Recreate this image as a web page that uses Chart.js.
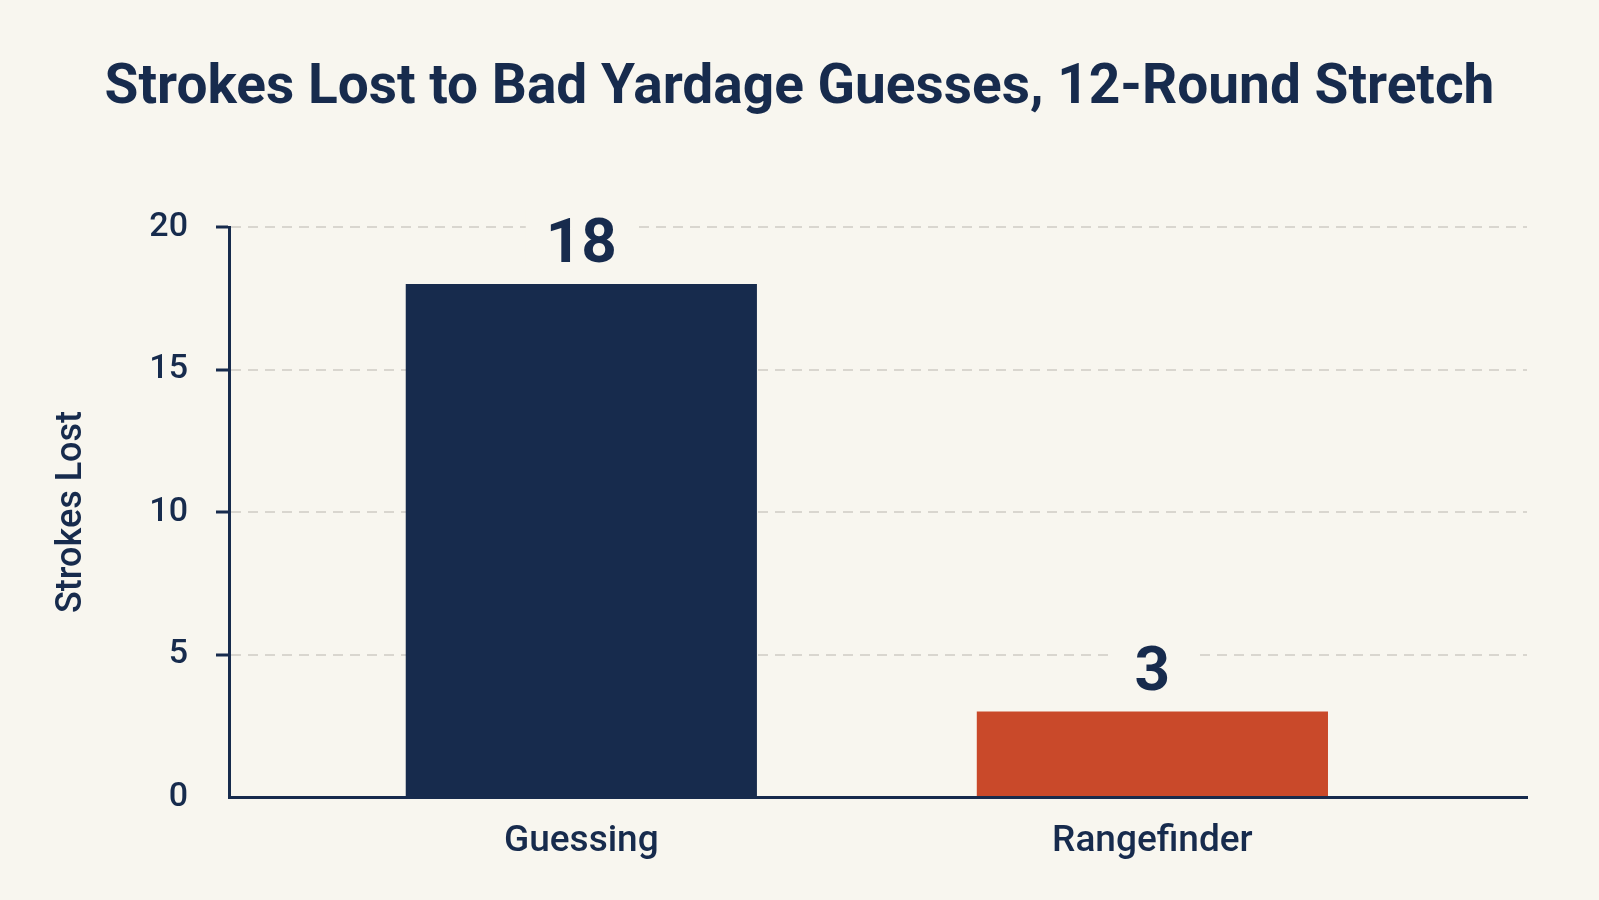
<!DOCTYPE html>
<html>
<head>
<meta charset="utf-8">
<title>Strokes Lost to Bad Yardage Guesses</title>
<script src="https://cdn.jsdelivr.net/npm/chart.js@4.4.1/dist/chart.umd.min.js"></script>
<style>
  html, body { margin: 0; padding: 0; background: #f8f6ef; }
  #wrap { width: 1599px; height: 900px; position: relative; }
</style>
</head>
<body>
<div id="wrap"><canvas id="chart"></canvas></div>
<script>
const categories = ['Guessing', 'Rangefinder'];
const strokesLost = [18, 3];
const barColors = ['#172b4d', '#c9492a'];
const yTicks = [0, 5, 10, 15, 20];

const NAVY = '#172b4d';
const BG = '#f8f6ef';
const GRID = '#d9d6cf';
const FONT = "Roboto, 'Liberation Sans', sans-serif";

Chart.defaults.font.family = FONT;
Chart.defaults.color = NAVY;

// number above each bar, with a patch of page colour so the grid line breaks around it
const valueLabels = {
    id: 'valueLabels',
    afterDatasetsDraw(chart) {
        const ctx = chart.ctx;
        const meta = chart.getDatasetMeta(0);
        ctx.save();
        ctx.font = `bold 62px ${FONT}`;
        ctx.textAlign = 'center';
        ctx.textBaseline = 'alphabetic';
        meta.data.forEach((bar, i) => {
            const text = String(strokesLost[i]);
            const w = Math.max(ctx.measureText(text).width + 40, 88);
            const base = bar.y - 22;
            ctx.fillStyle = BG;
            ctx.fillRect(bar.x - w / 2, base - 52, w, 56);
            ctx.fillStyle = NAVY;
            ctx.fillText(text, bar.x, base);
        });
        ctx.restore();
    }
};

new Chart(document.getElementById('chart'), {
    type: 'bar',
    data: {
        datasets: [{
            data: strokesLost.map((v, i) => ({ x: i, y: v })),
            backgroundColor: barColors,
            borderWidth: 0,
            categoryPercentage: 1,
            barPercentage: 0.615
        }]
    },
    options: {
        responsive: true,
        maintainAspectRatio: false,
        animation: false,
        layout: { padding: 0 },
        plugins: {
            legend: { display: false },
            tooltip: { enabled: false },
            title: {
                display: true,
                text: 'Strokes Lost to Bad Yardage Guesses, 12-Round Stretch',
                font: { size: 55, weight: 'bold' },
                color: NAVY,
                padding: { top: 56, bottom: 105 }
            }
        },
        scales: {
            x: {
                type: 'linear',
                offset: false,
                min: -0.617,
                max: 1.656,
                afterBuildTicks: s => { s.ticks = categories.map((c, i) => ({ value: i })); },
                ticks: {
                    callback: v => categories[v],
                    font: { size: 37, weight: '500' },
                    color: NAVY,
                    padding: 15,
                    autoSkip: false,
                    maxRotation: 0
                },
                grid: { display: false },
                border: { color: NAVY, width: 3 },
                afterFit: s => { s.height = 103; }
            },
            y: {
                min: 0,
                max: 20,
                afterBuildTicks: s => { s.ticks = yTicks.map(v => ({ value: v })); },
                ticks: { font: { size: 34, weight: '500' }, color: NAVY, padding: 28 },
                grid: {
                    color: c => c.tick && c.tick.value === 0 ? 'transparent' : GRID,
                    lineWidth: 2,
                    tickColor: c => c.tick && c.tick.value === 0 ? 'transparent' : NAVY,
                    tickLength: 13,
                    tickWidth: 3
                },
                border: { color: NAVY, width: 3, dash: [10, 7] },
                title: {
                    display: true,
                    text: 'Strokes Lost',
                    font: { size: 36, weight: '500' },
                    color: NAVY,
                    padding: { top: 50, bottom: 0 }
                },
                afterFit: s => { s.width = 229; }
            },
            // empty right axis, only keeps the plot clear of the right edge
            yRight: {
                position: 'right',
                grid: { display: false },
                border: { display: false },
                ticks: { display: false },
                afterFit: s => { s.width = 72; }
            }
        }
    },
    plugins: [valueLabels]
});
</script>
</body>
</html>
